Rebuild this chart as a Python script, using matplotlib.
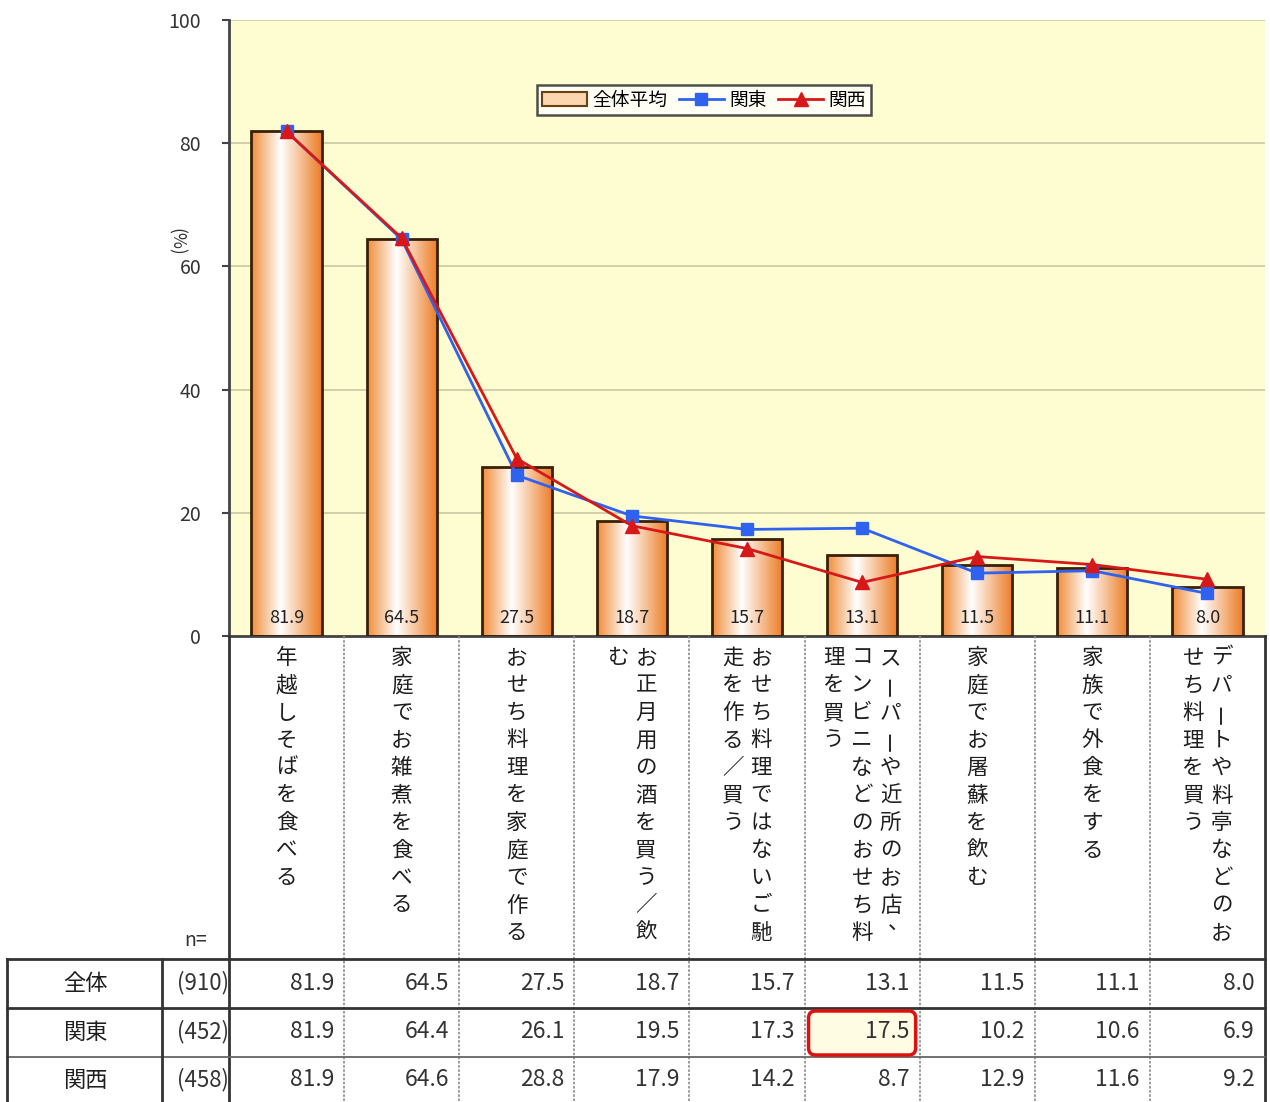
import matplotlib
matplotlib.use('Agg')
import matplotlib.pyplot as plt
import numpy as np
from matplotlib.patches import FancyBboxPatch, Patch
from matplotlib.lines import Line2D
from matplotlib.colors import LinearSegmentedColormap

plt.rcParams['font.family'] = ['Noto Sans CJK JP', 'DejaVu Sans']

# ---------------- data ----------------
categories = [
    ["年越しそばを食べる"],
    ["家庭でお雑煮を食べる"],
    ["おせち料理を家庭で作る"],
    ["お正月用の酒を買う／飲", "む"],
    ["おせち料理ではないご馳", "走を作る／買う"],
    ["スーパーや近所のお店、", "コンビニなどのおせち料", "理を買う"],
    ["家庭でお屠蘇を飲む"],
    ["家族で外食をする"],
    ["デパートや料亭などのお", "せち料理を買う"],
]
zentai = [81.9, 64.5, 27.5, 18.7, 15.7, 13.1, 11.5, 11.1, 8.0]
kanto = [81.9, 64.4, 26.1, 19.5, 17.3, 17.5, 10.2, 10.6, 6.9]
kansai = [81.9, 64.6, 28.8, 17.9, 14.2, 8.7, 12.9, 11.6, 9.2]
row_names = ["全体", "関東", "関西"]
n_values = ["(910)", "(452)", "(458)"]
legend_labels = ["全体平均", "関東", "関西"]
yticks = [0, 20, 40, 60, 80, 100]

# ---------------- layout ----------------
W, H = 1270, 1102
fig = plt.figure(figsize=(W / 100, H / 100), dpi=100)
L, R, T, B = 229, 1265, 20, 636
ax = fig.add_axes([L / W, 1 - B / H, (R - L) / W, (B - T) / H])
ax.set_facecolor('#FEFDD2')

n = len(zentai)
x = np.arange(n)
bw = 0.61

grad_cmap = LinearSegmentedColormap.from_list(
    'g', [(0.0, '#F08C38'), (0.42, '#FFFFFF'), (1.0, '#EC7C24')])
grad = np.linspace(0, 1, 256).reshape(1, -1)

bars = ax.bar(x, zentai, bw, color='none', edgecolor='#3A2008', linewidth=2, zorder=3)
for b in bars:
    x0, w, h = b.get_x(), b.get_width(), b.get_height()
    im = ax.imshow(grad, extent=[x0, x0 + w, 0, h], cmap=grad_cmap, aspect='auto', zorder=2)
    im.set_clip_path(b)

ax.plot(x, kanto, color='#2F62EE', marker='s', ms=9, lw=2, zorder=4)
ax.plot(x, kansai, color='#D81818', marker='^', ms=10, lw=2, zorder=5)

for i, v in enumerate(zentai):
    ax.text(i, 3.0, f"{v:.1f}", ha='center', va='center', fontsize=13, color='#222222', zorder=6)

ax.set_xlim(-0.5, n - 0.5)
ax.set_ylim(0, 100)
ax.set_yticks(yticks)
ax.set_xticks([])
ax.grid(axis='y', color='#C9C7A3', lw=1.2)
ax.set_axisbelow(True)
for s in ['top', 'right']:
    ax.spines[s].set_visible(False)
for s in ['left', 'bottom']:
    ax.spines[s].set_color('#444444')
    ax.spines[s].set_linewidth(2)
ax.tick_params(axis='y', length=5, width=1.5, color='#444444', pad=15, labelsize=14, labelcolor='#333333')

handles = [
    Patch(facecolor='#FBD6AE', edgecolor='#6A4015', linewidth=1.5),
    Line2D([], [], color='#2F62EE', marker='s', ms=9, lw=2),
    Line2D([], [], color='#D81818', marker='^', ms=10, lw=2),
]
leg = ax.legend(handles, legend_labels, loc='center', bbox_to_anchor=(704 / W, 1 - 100 / H),
                bbox_transform=fig.transFigure, ncol=3, frameon=True, fancybox=False,
                edgecolor='#222222', fontsize=13.5, handlelength=2.4, handletextpad=0.3,
                columnspacing=0.6, borderpad=0.25)
leg.get_frame().set_linewidth(1.8)

# ---------------- overlay (labels + table) ----------------
ov = fig.add_axes([0, 0, 1, 1])
ov.set_xlim(0, W)
ov.set_ylim(H, 0)
ov.axis('off')
ov.patch.set_alpha(0)

colw = (R - L) / n
txt = '#1E1E1E'

ov.text(176, 242, "(%)", rotation=270, ha='center', va='center', fontsize=12.5, color='#333333')

# vertical lines in label & table area
ov.plot([L, L], [B, H], color='#333333', lw=2)
ov.plot([R, R], [B, H], color='#333333', lw=2)
for k in range(1, n):
    xx = L + k * colw
    ov.plot([xx, xx], [B, H], color='#8A8A8A', lw=1.2, ls=(0, (1.5, 1)))
# table lines
ov.plot([7, R], [959, 959], color='#333333', lw=2)
ov.plot([7, R], [1008, 1008], color='#333333', lw=2)
ov.plot([7, R], [1057, 1057], color='#666666', lw=1.3)
ov.plot([7, 7], [959, H], color='#333333', lw=2)
ov.plot([162, 162], [959, H], color='#333333', lw=2)

ov.text(196, 940, "n=", ha='center', va='center', fontsize=14, color='#333333')

# vertical category labels
y0, dy, dx = 658, 27.5, 28.5
fs_v = 15.5
for i, cols in enumerate(categories):
    cx = L + (i + 0.5) * colw
    nc = len(cols)
    for j, col in enumerate(cols):
        xc = cx + (nc - 1) / 2 * dx - j * dx
        for k, ch in enumerate(col):
            yc = y0 + k * dy
            if ch == 'ー':
                ov.text(xc, yc, ch, rotation=90, ha='center', va='center', fontsize=fs_v, color=txt)
            elif ch == '、':
                ov.text(xc + 8, yc - 9, ch, ha='center', va='center', fontsize=fs_v, color=txt)
            else:
                ov.text(xc, yc, ch, ha='center', va='center', fontsize=fs_v, color=txt)

# highlight box (関東 x スーパー)
hl = FancyBboxPatch((L + 5 * colw + 4, 1011), colw - 8, 44,
                    boxstyle='round,pad=0,rounding_size=7', ec='#E01010', fc='#FFFCE4', lw=2.5, zorder=3)
ov.add_patch(hl)

row_y = [983, 1032, 1080]
table = [zentai, kanto, kansai]
for r, (name, nv, vals) in enumerate(zip(row_names, n_values, table)):
    ov.text(85, row_y[r], name, ha='center', va='center', fontsize=16, color=txt)
    ov.text(203, row_y[r], nv, ha='center', va='center', fontsize=16, color='#333333')
    for i, v in enumerate(vals):
        ov.text(L + (i + 1) * colw - 10, row_y[r], f"{v:.1f}", ha='right', va='center',
                fontsize=16.5, color='#333333', zorder=4)

fig.savefig('out.png', dpi=100)
